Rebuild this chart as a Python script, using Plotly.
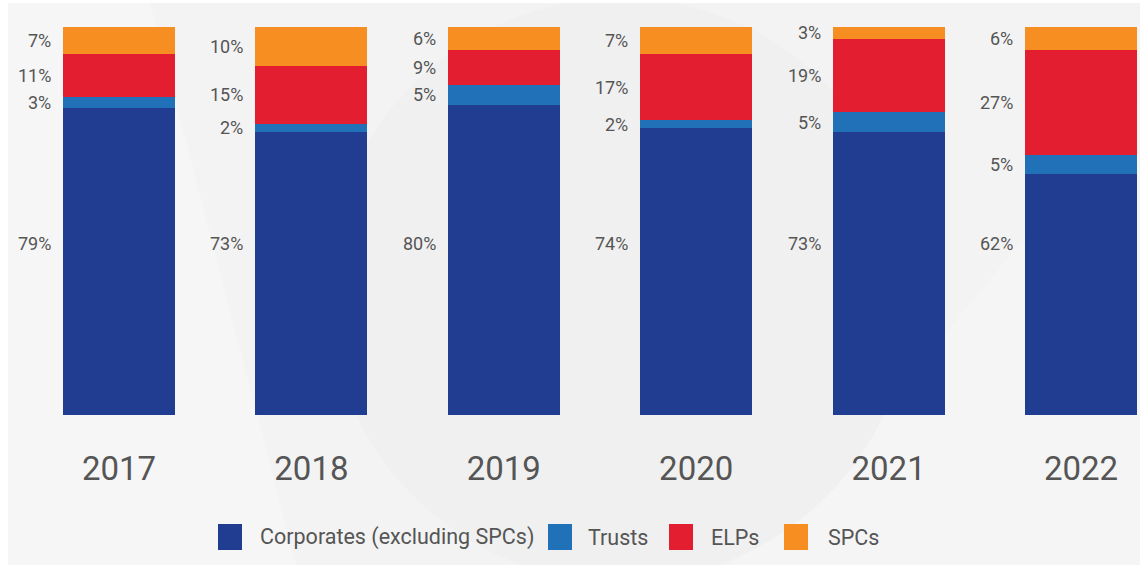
import plotly.graph_objects as go

years = ["2017", "2018", "2019", "2020", "2021", "2022"]
corporates = [79, 73, 80, 74, 73, 62]
trusts = [3, 2, 5, 2, 5, 5]
elps = [11, 15, 9, 17, 19, 27]
spcs = [7, 10, 6, 7, 3, 6]

series_names = ["Corporates (excluding SPCs)", "Trusts", "ELPs", "SPCs"]
series_values = [corporates, trusts, elps, spcs]
colors = ["#203d91", "#2171b8", "#e31e30", "#f68e22"]

W, H = 1146, 567
TOP, BOTTOM = 27, 415
FONT = "Roboto"
TXT = "#555555"

fig = go.Figure()
for name, vals, col in zip(series_names, series_values, colors):
    fig.add_trace(go.Bar(x=years, y=vals, name=name, marker=dict(color=col, line=dict(width=0)),
                         width=0.582, showlegend=False, hoverinfo="x+y+name"))

annotations = []
for i, yr in enumerate(years):
    bottom = 0
    for k, vals in enumerate(series_values):
        v = vals[i]
        if k == 0:
            ypos = 44.3
        else:
            ypos = bottom + v / 2
        annotations.append(dict(x=i, y=ypos, xref="x", yref="y", text=f"{v}%", showarrow=False,
                                xanchor="right", yanchor="middle", xshift=-66,
                                font=dict(family=FONT, size=18, color=TXT)))
        bottom += v

ph = BOTTOM - TOP
def py(pix):
    return (BOTTOM - pix) / ph
def px(pix):
    return pix / W

def poly(points):
    return "M " + " L ".join(f"{px(a)},{py(b)}" for a, b in points) + " Z"

shapes = [
    dict(type="rect", xref="paper", yref="paper", x0=px(8), x1=px(1140), y0=py(565), y1=py(3),
         fillcolor="#f3f3f3", line=dict(width=0), layer="below"),
    dict(type="path", xref="paper", yref="paper", path=poly([(8, 3), (150, 3), (296, 565), (8, 565)]),
         fillcolor="#f6f6f6", line=dict(width=0), layer="below"),
    dict(type="path", xref="paper", yref="paper", path=poly([(1140, 100), (873, 420), (731, 565), (1140, 565)]),
         fillcolor="#f5f5f5", line=dict(width=0), layer="below"),
    dict(type="circle", xref="paper", yref="paper", x0=px(328), x1=px(912), y0=py(582), y1=py(-2),
         fillcolor="#f0f0f0", line=dict(width=0), layer="below"),
    # white page border
    dict(type="rect", xref="paper", yref="paper", x0=px(0), x1=px(W), y0=py(3), y1=py(-10),
         fillcolor="white", line=dict(width=0), layer="below"),
    dict(type="rect", xref="paper", yref="paper", x0=px(0), x1=px(W), y0=py(H + 10), y1=py(565),
         fillcolor="white", line=dict(width=0), layer="below"),
]

# custom legend
legend_items = [(218, 258), (548, 586), (669, 709), (784, 826)]
for (sx, tx), name, col in zip(legend_items, series_names, colors):
    shapes.append(dict(type="rect", xref="paper", yref="paper", x0=px(sx), x1=px(sx + 24),
                       y0=py(550), y1=py(524), fillcolor=col, line=dict(width=0)))
    annotations.append(dict(x=px(tx), y=py(537), xref="paper", yref="paper", text=name, showarrow=False,
                            xanchor="left", yanchor="middle",
                            font=dict(family=FONT, size=21.5, color=TXT)))

x0 = -119 / 192.4
x1 = x0 + W / 192.4
fig.update_layout(
    width=W, height=H, barmode="stack",
    margin=dict(l=0, r=0, t=TOP, b=H - BOTTOM),
    paper_bgcolor="white", plot_bgcolor="rgba(0,0,0,0)",
    xaxis=dict(type="category", range=[x0, x1], showgrid=False, zeroline=False, showline=False,
               ticks="", ticklabelstandoff=31, tickfont=dict(family=FONT, size=33, color=TXT)),
    yaxis=dict(range=[0, 100], visible=False),
    annotations=annotations, shapes=shapes,
)
fig.write_html("out.html", config={"displayModeBar": False},
               post_script="document.body.style.margin='0';document.body.style.padding='0';")
